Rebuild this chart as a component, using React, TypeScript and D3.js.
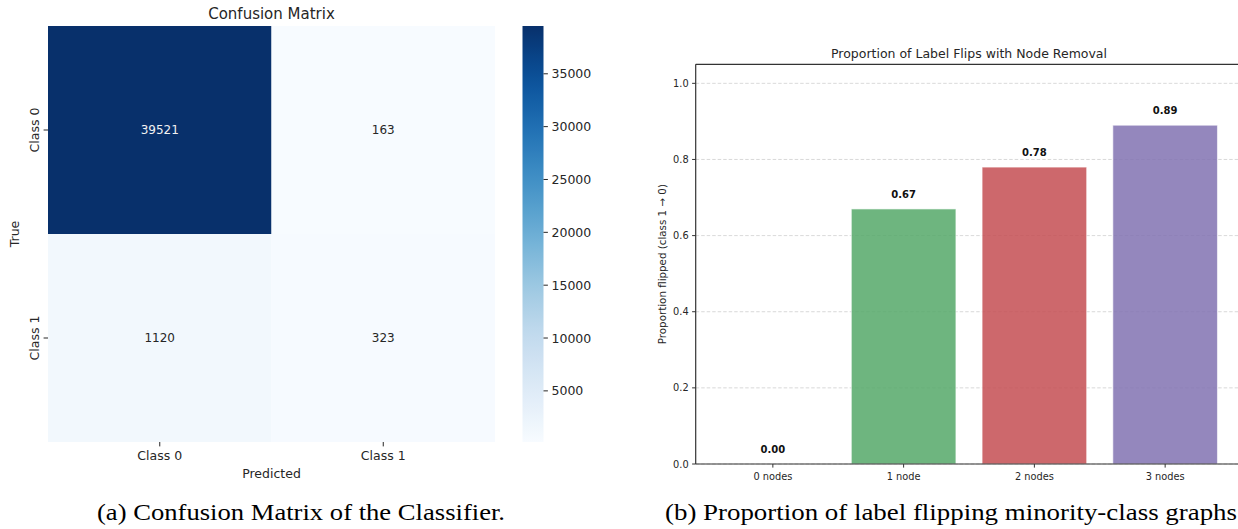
import React from "react";
import * as d3 from "d3";

// ---------- data ----------
const classes = ["Class 0", "Class 1"];
const trueClass0 = [39521, 163];
const trueClass1 = [1120, 323];
const colorbarTicks = [5000, 10000, 15000, 20000, 25000, 30000, 35000];

const nodeLabels = ["0 nodes", "1 node", "2 nodes", "3 nodes"];
const flipValues = [0.0, 0.67, 0.78, 0.89];
const barColors = ["#4C72B0", "#55A868", "#C44E52", "#8172B2"];
const yTicks = [0.0, 0.2, 0.4, 0.6, 0.8, 1.0];

const captionA = "(a) Confusion Matrix of the Classifier.";
const captionB = "(b) Proportion of label flipping minority-class graphs";

const SANS = "'DejaVu Sans', sans-serif";
const SERIF = "'Liberation Serif', 'DejaVu Serif', serif";

function Heatmap() {
  const matrix = [trueClass0, trueClass1];
  const all = matrix.flat();
  const vmin = d3.min(all) as number;
  const vmax = d3.max(all) as number;
  const x = d3.scaleBand<string>().domain(classes).range([48, 495]);
  const y = d3.scaleBand<string>().domain(classes).range([26, 442]);
  const color = d3.scaleSequential(d3.interpolateBlues).domain([vmin, vmax]);
  const cb = d3.scaleLinear().domain([vmin, vmax]).range([442, 26]);
  const cbX = 522.5;
  const cbW = 21;
  const stops = d3.range(0, 1.0001, 1 / 40);
  const textCol = "#262626";
  return (
    <g fontFamily={SANS}>
      <defs>
        <linearGradient id="cbgrad" x1="0" y1="1" x2="0" y2="0">
          {stops.map((t, i) => (
            <stop key={i} offset={t} stopColor={color(vmin + t * (vmax - vmin))} />
          ))}
        </linearGradient>
      </defs>
      <text x={(48 + 495) / 2} y={19} textAnchor="middle" fontSize={15} fill={textCol}>
        Confusion Matrix
      </text>
      {matrix.map((row, ri) =>
        row.map((v, ci) => (
          <g key={`${ri}-${ci}`}>
            <rect
              x={x(classes[ci])}
              y={y(classes[ri])}
              width={x.bandwidth()}
              height={y.bandwidth()}
              fill={color(v)}
            />
            <text
              x={(x(classes[ci]) as number) + x.bandwidth() / 2}
              y={(y(classes[ri]) as number) + y.bandwidth() / 2}
              textAnchor="middle"
              dominantBaseline="central"
              fontSize={12}
              fill={(v - vmin) / (vmax - vmin) > 0.5 ? "#f2f2f2" : textCol}
            >
              {v}
            </text>
          </g>
        ))
      )}
      {/* y ticks */}
      {classes.map((c) => {
        const cy = (y(c) as number) + y.bandwidth() / 2;
        return (
          <g key={c}>
            <line x1={43.6} x2={48} y1={cy} y2={cy} stroke={textCol} strokeWidth={1} />
            <text
              transform={`translate(38.5,${cy}) rotate(-90)`}
              textAnchor="middle"
              fontSize={12.5}
              fill={textCol}
            >
              {c}
            </text>
          </g>
        );
      })}
      {/* x ticks */}
      {classes.map((c) => {
        const cx = (x(c) as number) + x.bandwidth() / 2;
        return (
          <g key={c}>
            <line x1={cx} x2={cx} y1={442} y2={446.4} stroke={textCol} strokeWidth={1} />
            <text x={cx} y={460} textAnchor="middle" fontSize={12.5} fill={textCol}>
              {c}
            </text>
          </g>
        );
      })}
      <text x={(48 + 495) / 2} y={478} textAnchor="middle" fontSize={12.5} fill={textCol}>
        Predicted
      </text>
      <text
        transform={`translate(19,234) rotate(-90)`}
        textAnchor="middle"
        fontSize={12.5}
        fill={textCol}
      >
        True
      </text>
      {/* colorbar */}
      <rect x={cbX} y={26} width={cbW} height={416} fill="url(#cbgrad)" />
      {colorbarTicks.map((t) => (
        <g key={t}>
          <line
            x1={cbX + cbW}
            x2={cbX + cbW + 4.4}
            y1={cb(t)}
            y2={cb(t)}
            stroke={textCol}
            strokeWidth={1}
          />
          <text
            x={cbX + cbW + 8}
            y={cb(t)}
            dominantBaseline="central"
            fontSize={12.5}
            fill={textCol}
          >
            {t}
          </text>
        </g>
      ))}
    </g>
  );
}

function BarChart() {
  const left = 695.7;
  const right = 1242.3;
  const top = 64.3;
  const bottom = 464;
  const x = d3.scaleLinear().domain([-0.59, 3.59]).range([left, right]);
  const y = d3.scaleLinear().domain([0, 1.05]).range([bottom, top]);
  const bw = 0.8;
  const axisCol = "#333333";
  const textCol = "#262626";
  return (
    <g fontFamily={SANS}>
      <text x={(left + right) / 2} y={58} textAnchor="middle" fontSize={12.5} fill={textCol}>
        Proportion of Label Flips with Node Removal
      </text>
      {yTicks.map((t) => (
        <line
          key={`g${t}`}
          x1={left}
          x2={right}
          y1={y(t)}
          y2={y(t)}
          stroke="#cfcfcf"
          strokeWidth={0.8}
          strokeDasharray="3.5,2"
        />
      ))}
      {flipValues.map((v, i) => (
        <rect
          key={i}
          x={x(i - bw / 2)}
          y={y(v)}
          width={x(bw) - x(0)}
          height={bottom - y(v)}
          fill={barColors[i]}
          fillOpacity={0.85}
          stroke="#ffffff"
          strokeOpacity={0.6}
          strokeWidth={1}
        />
      ))}
      {flipValues.map((v, i) => (
        <text
          key={`l${i}`}
          x={x(i)}
          y={y(v + 0.03)}
          textAnchor="middle"
          fontSize={10}
          fontWeight="bold"
          fill="#111111"
        >
          {v.toFixed(2)}
        </text>
      ))}
      {/* spines */}
      <line x1={left} x2={right} y1={top} y2={top} stroke={axisCol} strokeWidth={1.2} />
      <line x1={left} x2={left} y1={top} y2={bottom} stroke={axisCol} strokeWidth={1.2} />
      <line x1={right} x2={right} y1={top} y2={bottom} stroke={axisCol} strokeWidth={1.2} />
      <line x1={left} x2={right} y1={bottom} y2={bottom} stroke={axisCol} strokeWidth={1.2} />
      {yTicks.map((t) => (
        <g key={`t${t}`}>
          <line x1={left - 3.6} x2={left} y1={y(t)} y2={y(t)} stroke={axisCol} strokeWidth={1} />
          <text
            x={left - 7}
            y={y(t)}
            textAnchor="end"
            dominantBaseline="central"
            fontSize={9.8}
            fill={textCol}
          >
            {t.toFixed(1)}
          </text>
        </g>
      ))}
      {nodeLabels.map((n, i) => (
        <g key={n}>
          <line x1={x(i)} x2={x(i)} y1={bottom} y2={bottom + 3.6} stroke={axisCol} strokeWidth={1} />
          <text x={x(i)} y={480} textAnchor="middle" fontSize={9.8} fill={textCol}>
            {n}
          </text>
        </g>
      ))}
      <text
        transform={`translate(666,${(top + bottom) / 2}) rotate(-90)`}
        textAnchor="middle"
        fontSize={10.3}
        fill={textCol}
      >
        Proportion flipped (class 1 → 0)
      </text>
    </g>
  );
}

export default function App() {
  return (
    <svg
      width={1238}
      height={529}
      style={{ position: "absolute", left: 0, top: 0, background: "#ffffff" }}
      xmlns="http://www.w3.org/2000/svg"
    >
      <rect x={0} y={0} width={1238} height={529} fill="#ffffff" />
      <Heatmap />
      <BarChart />
      <text x={97} y={520} fontFamily={SERIF} fontSize={24} textLength={408} lengthAdjust="spacingAndGlyphs" fill="#000">
        {captionA}
      </text>
      <text x={665} y={520} fontFamily={SERIF} fontSize={24} textLength={572} lengthAdjust="spacingAndGlyphs" fill="#000">
        {captionB}
      </text>
    </svg>
  );
}
